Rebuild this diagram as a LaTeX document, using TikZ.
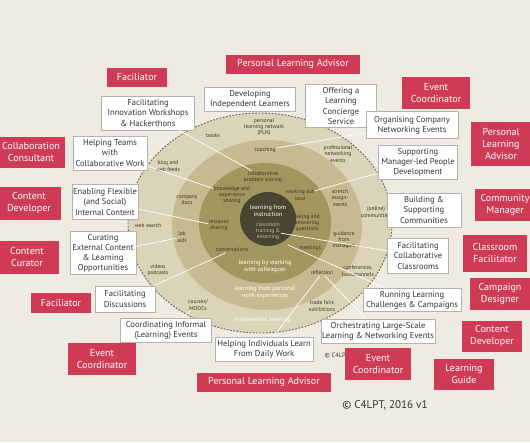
\documentclass[tikz,border=0pt]{standalone}
\usepackage{fontspec}
\setmainfont{PT Sans}

\definecolor{bgbeige}{HTML}{EEEBE2}
\definecolor{ringlight}{HTML}{DBD4B8}
\definecolor{ringmid}{HTML}{C6BB90}
\definecolor{ringolive}{HTML}{A2965F}
\definecolor{ringdark}{HTML}{4A4530}
\definecolor{ringdash}{HTML}{6B6450}
\definecolor{ringink}{HTML}{3A3522}
\definecolor{c4red}{HTML}{CF3A55}
\definecolor{boxgrey}{HTML}{B4B2AA}
\definecolor{txtdark}{HTML}{333333}

\begin{document}
\begin{tikzpicture}[
        x=0.03cm, y=-0.03cm,
        wbox/.style={draw=boxgrey, fill=white, line width=0.5pt, align=center, inner sep=0pt,
            text=txtdark, font=\fontsize{7.3}{8.6}\selectfont},
        rbox/.style={fill=c4red, text=white, align=center, inner sep=0pt,
            font=\fontsize{8.6}{10.2}\selectfont},
        ringtxt/.style={align=center, inner sep=0.5pt, text=ringink,
            font=\fontsize{4.7}{5.3}\selectfont},
        ringhead/.style={align=center, inner sep=0.5pt, text=white,
            font=\fontsize{5.3}{6}\selectfont},
        lnk/.style={white, line width=0.6pt},
    ]
        % Page
        \useasboundingbox (0,0) rectangle (530,442);
        \clip (0,0) rectangle (530,442);
        \fill[bgbeige] (0,0) rectangle (530,442);

        % Rings
        \fill[ringlight] (260,223) ellipse [x radius=3.96cm, y radius=3.3cm];
        \draw[ringdash, line width=0.8pt, dash pattern=on 1.5pt off 1.3pt]
            (260,223) ellipse [x radius=3.96cm, y radius=3.3cm];
        \fill[ringmid] (267,225) ellipse [x radius=2.85cm, y radius=2.55cm];
        \fill[ringolive] (265,223) ellipse [x radius=1.98cm, y radius=1.8cm];
        \fill[ringdark] (268,219) ellipse [x radius=0.84cm, y radius=0.81cm];
        \coordinate (corese) at (288,245);

        % Outer ring texts
        \node[ringtxt] (tpln) at (264,127) {personal\\learning network\\(PLN)};
        \node[ringtxt] (tbooks) at (213,136) {books};
        \node[ringtxt] (tblog) at (168,166) {blog and\\web feeds};
        \node[ringtxt] (twebsearch) at (148,226) {web search};
        \node[ringtxt] (tvideos) at (158,270) {videos\\podcasts};
        \node[ringtxt] (tcourses) at (198,305) {courses/\\MOOCs};
        \node[ringtxt] (ttrade) at (322,306) {trade fairs\\exhibitions};
        \node[ringtxt] (tconf) at (358,271) {conferences,\\backchannels};
        \node[ringtxt] (tonline) at (376,212) {(online)\\communities};
        \node[ringtxt] (tprofnet) at (338,154) {professional\\networking\\events};
        \node[ringhead, text=white!92!ringlight] (tindep) at (262,320) {independent learning};

        % Middle ring texts
        \node[ringtxt] (tcoach) at (265,150) {coaching};
        \node[ringtxt] (tdocs) at (187,200) {company\\docs};
        \node[ringtxt] (tjobaids) at (182,237) {job\\aids};
        \node[ringtxt] (tstretch) at (340,198) {stretch\\assign-\\ments};
        \node[ringtxt] (tguidance) at (344,240) {guidance\\from\\managers};
        \node[ringtxt] (treflect) at (322,273) {reflection};
        \node[ringhead] (tpersonal) at (265,292) {learning from personal\\work experiences};

        % Inner ring texts
        \node[ringtxt] (tcollab) at (263,177) {collaborative\\problem solving};
        \node[ringtxt] (tknowl) at (232,195) {knowledge and\\experience\\sharing};
        \node[ringtxt] (tworkout) at (300,195) {working out\\loud};
        \node[ringtxt] (tresource) at (219,226) {resource\\sharing};
        \node[ringtxt] (tasking) at (307,223) {asking and\\answering\\questions};
        \node[ringtxt] (tconvers) at (232,250) {conversations};
        \node[ringtxt] (tmeetings) at (310,248) {meetings};
        \node[ringhead] (tcolleagues) at (265,266) {learning by working\\with colleagues};

        % Core
        \node[ringhead] (tinstruct) at (268,211) {learning from\\instruction};
        \node[ringtxt, text=ringlight!70!gray] (tclassroom) at (268,231) {classroom\\training \&\\elearning};

        % Small copyright under the ring
        \node[inner sep=0pt, text=txtdark, font=\fontsize{5.5}{6}\selectfont] (smallcopy) at (337,355) {© C4LPT};

        % Practices
        \node[wbox, minimum width=2.79cm, minimum height=1.02cm] (innov) at (148,113) {Facilitating\\Innovation Workshops\\\& Hackerthons};
        \node[wbox, minimum width=2.73cm, minimum height=0.72cm] (indep) at (250,99) {Developing\\Independent Learners};
        \node[wbox, minimum width=2.13cm, minimum height=1.29cm] (concierge) at (341,106) {Offering a\\Learning\\Concierge\\Service};
        \node[wbox, minimum width=2.76cm, minimum height=0.81cm] (organise) at (412,125) {Organising Company\\Networking Events};
        \node[wbox, minimum width=2.37cm, minimum height=1.02cm] (manager) at (418,162) {Supporting\\Manager-led People\\Development};
        \node[wbox, minimum width=2.22cm, minimum height=1.02cm] (communities) at (424,210) {Building \&\\Supporting\\Communities};
        \node[wbox, minimum width=1.83cm, minimum height=1.05cm] (classrooms) at (418,256) {Facilitating\\Collaborative\\Classrooms};
        \node[wbox, minimum width=2.94cm, minimum height=0.69cm] (challenges) at (412,300) {Running Learning\\Challenges \& Campaigns};
        \node[wbox, minimum width=3.42cm, minimum height=0.72cm] (orchestr) at (378,331) {Orchestrating Large-Scale\\Learning \& Networking Events};
        \node[wbox, minimum width=2.94cm, minimum height=0.72cm] (individuals) at (264,349) {Helping Individuals Learn\\From Daily Work};
        \node[wbox, minimum width=2.73cm, minimum height=0.72cm] (informal) at (166,330) {Coordinating Informal\\(Learning) Events};
        \node[wbox, minimum width=1.8cm, minimum height=0.78cm] (discuss) at (125,299) {Facilitating\\Discussions};
        \node[wbox, minimum width=1.98cm, minimum height=1.29cm] (curating) at (103,253) {Curating\\External Content\\\& Learning\\Opportunities};
        \node[wbox, minimum width=1.98cm, minimum height=1.05cm] (enabling) at (105,202) {Enabling Flexible\\(and Social)\\Internal Content};
        \node[wbox, minimum width=2.22cm, minimum height=1.02cm] (teams) at (110,153) {Helping Teams\\with\\Collaborative Work};

        % Links from practices into the rings
        \foreach \a/\b in {innov/tcollab, teams/tknowl, enabling/tresource, curating/tjobaids,
                discuss/tconvers, informal/tcourses, individuals/treflect, orchestr/treflect,
                tclassroom/classrooms, corese/challenges, communities/tonline,
                manager/tworkout, organise/tcoach} {
            \draw[lnk] (\a) -- (\b);
        }

        % Roles
        \node[rbox, minimum width=1.77cm, minimum height=0.57cm] (facil1) at (137,77) {Faciliator};
        \node[rbox, minimum width=4.02cm, minimum height=0.57cm] (pla1) at (293,64) {Personal Learning Advisor};
        \node[rbox, minimum width=2.04cm, minimum height=0.96cm] (event1) at (436,93) {Event\\Coordinator};
        \node[rbox, minimum width=1.8cm, minimum height=1.32cm] (pla2) at (501,144) {Personal\\Learning\\Advisor};
        \node[rbox, minimum width=1.8cm, minimum height=0.96cm] (community) at (505,205) {Community\\Manager};
        \node[rbox, minimum width=1.92cm, minimum height=1.11cm] (classfac) at (495,253) {Classroom\\Facilitator};
        \node[rbox, minimum width=1.8cm, minimum height=0.96cm] (campaign) at (500,294) {Campaign\\Designer};
        \node[rbox, minimum width=1.8cm, minimum height=0.93cm] (contdev2) at (492,336) {Content\\Developer};
        \node[rbox, minimum width=1.8cm, minimum height=0.93cm] (guide) at (464,374) {Learning\\Guide};
        \node[rbox, minimum width=1.98cm, minimum height=0.96cm] (event2) at (378,364) {Event\\Coordinator};
        \node[rbox, minimum width=4.02cm, minimum height=0.57cm] (pla3) at (264,382) {Personal Learning Advisor};
        \node[rbox, minimum width=2.04cm, minimum height=0.96cm] (event3) at (102,359) {Event\\Coordinator};
        \node[rbox, minimum width=1.8cm, minimum height=0.6cm] (facil2) at (61,303) {Faciliator};
        \node[rbox, minimum width=1.92cm, minimum height=0.99cm] (curator) at (27,257) {Content\\Curator};
        \node[rbox, minimum width=1.92cm, minimum height=0.99cm] (contdev1) at (29,203) {Content\\Developer};
        \node[rbox, minimum width=2.04cm, minimum height=0.93cm] (collabcons) at (31,152) {Collaboration\\Consultant};

        % Copyright
        \node[inner sep=0pt, text=txtdark, font=\fontsize{9.5}{11}\selectfont] (copy) at (385,405) {© C4LPT, 2016 v1};
    \end{tikzpicture}
\end{document}
